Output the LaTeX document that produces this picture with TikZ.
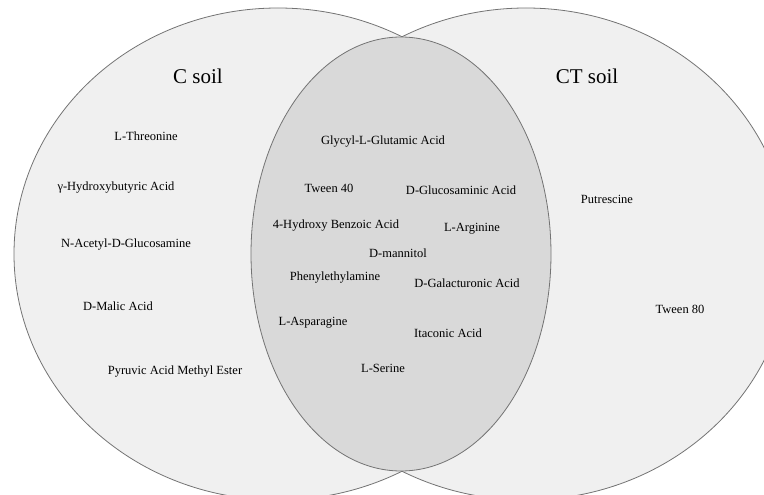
\documentclass[tikz,border=0pt]{standalone}
\usepackage{fontspec}
\setmainfont{Liberation Serif}
\usetikzlibrary{shapes.geometric}

\tikzset{
    setshape/.style={ellipse, draw=gray!110, line width=0.8pt, inner sep=0pt},
    sidefill/.style={setshape, fill=gray!12},
    midfill/.style={setshape, fill=gray!30},
    setlabel/.style={font=\fontsize{21}{24}\selectfont, inner sep=0pt},
    item/.style={font=\fontsize{12.5}{14}\selectfont, inner sep=0pt}
}

\begin{document}
\begin{tikzpicture}[x=1pt, y=-1pt]
        \useasboundingbox (0,0) rectangle (764,495);

        \node[sidefill, minimum width=528pt, minimum height=492pt] (cset) at (278,254) {};
        \node[sidefill, minimum width=528pt, minimum height=492pt] (ctset) at (526,254) {};
        \node[midfill, minimum width=300pt, minimum height=434pt] (both) at (401,254) {};

        \node[setlabel] (ctitle) at (198,76) {C soil};
        \node[setlabel] (cttitle) at (587,76) {CT soil};

        % C soil only
        \node[item] (thr) at (146,136) {L-Threonine};
        \node[item] (ghb) at (116,188) {γ-Hydroxybutyric Acid};
        \node[item] (nag) at (126,245) {N-Acetyl-D-Glucosamine};
        \node[item] (dmal) at (118,306) {D-Malic Acid};
        \node[item] (pyr) at (175,372) {Pyruvic Acid Methyl Ester};

        % both soils
        \node[item] (gly) at (383,142) {Glycyl-L-Glutamic Acid};
        \node[item] (tw40) at (329,188) {Tween 40};
        \node[item] (dgam) at (461,190) {D-Glucosaminic Acid};
        \node[item] (hba) at (336,226) {4-Hydroxy Benzoic Acid};
        \node[item] (arg) at (472,229) {L-Arginine};
        \node[item] (man) at (398,253) {D-mannitol};
        \node[item] (phe) at (335,278) {Phenylethylamine};
        \node[item] (dgal) at (467,283) {D-Galacturonic Acid};
        \node[item] (asn) at (313,323) {L-Asparagine};
        \node[item] (ita) at (448,333) {Itaconic Acid};
        \node[item] (ser) at (383,368) {L-Serine};

        % CT soil only
        \node[item] (put) at (607,199) {Putrescine};
        \node[item] (tw80) at (680,309) {Tween 80};
    \end{tikzpicture}
\end{document}
